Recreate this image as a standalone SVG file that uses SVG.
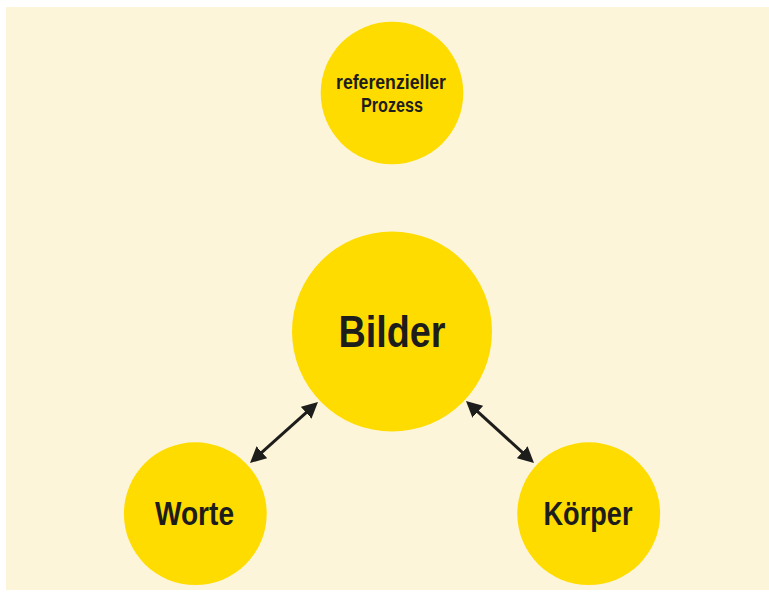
<svg xmlns="http://www.w3.org/2000/svg" width="769" height="599" viewBox="0 0 769 599">
<style>
.node circle{fill:#FFDC00}
.lbl{font-family:"Liberation Sans",Arial,sans-serif;font-weight:bold;fill:#1d1d1b;text-anchor:middle}
.conn line{stroke:#1d1d1b;stroke-width:3;fill:none}
</style>
<defs>
<marker id="ah" viewBox="0 0 16 16" markerWidth="16" markerHeight="16" refX="8" refY="8" orient="auto-start-reverse" markerUnits="userSpaceOnUse">
<path d="M0,0 L16,8 L0,16 z" fill="#1d1d1b"/>
</marker>
</defs>
<rect x="6" y="7" width="763" height="583" fill="#FDF5DA"/>
<g id="node-prozess" class="node">
<circle cx="392" cy="93" r="71.3"/>
<text class="lbl" x="391" y="88.5" font-size="20" textLength="110" lengthAdjust="spacingAndGlyphs">referenzieller</text>
<text class="lbl" x="392" y="112" font-size="20" textLength="62" lengthAdjust="spacingAndGlyphs">Prozess</text>
</g>
<g id="node-bilder" class="node">
<circle cx="392" cy="331.5" r="100"/>
<text class="lbl" x="392" y="347" font-size="45" textLength="107" lengthAdjust="spacingAndGlyphs">Bilder</text>
</g>
<g id="node-worte" class="node">
<circle cx="195.3" cy="513.7" r="71.4"/>
<text class="lbl" x="194.5" y="525" font-size="33" textLength="79" lengthAdjust="spacingAndGlyphs">Worte</text>
</g>
<g id="node-koerper" class="node">
<circle cx="588.7" cy="513.7" r="71.4"/>
<text class="lbl" x="588" y="525" font-size="33" textLength="89" lengthAdjust="spacingAndGlyphs">Körper</text>
</g>
<g id="connectors" class="conn">
<line x1="255.95" y1="457.66" x2="312.05" y2="407.34" marker-start="url(#ah)" marker-end="url(#ah)"/>
<line x1="471.9" y1="406.4" x2="528.1" y2="457.6" marker-start="url(#ah)" marker-end="url(#ah)"/>
</g>
</svg>
